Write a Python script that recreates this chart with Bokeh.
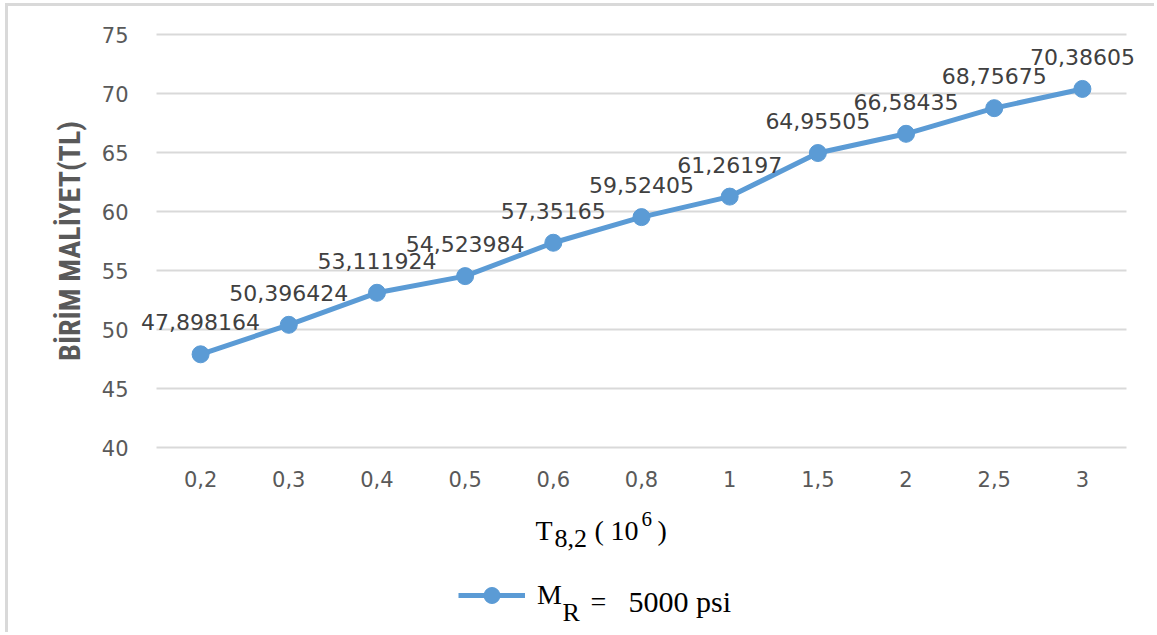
from bokeh.plotting import figure
from bokeh.models import (ColumnDataSource, Range1d, FixedTicker, Grid,
                          Label, LabelSet, Legend, LegendItem)
from bokeh.core.properties import value
from bokeh.embed import file_html
from bokeh.resources import INLINE

# ---------------- data ----------------
categories = ["0,2", "0,3", "0,4", "0,5", "0,6", "0,8", "1", "1,5", "2", "2,5", "3"]
costs = [47.898164, 50.396424, 53.111924, 54.523984, 57.35165, 59.52405,
         61.26197, 64.95505, 66.58435, 68.75675, 70.38605]
cost_labels = ["47,898164", "50,396424", "53,111924", "54,523984", "57,35165", "59,52405",
               "61,26197", "64,95505", "66,58435", "68,75675", "70,38605"]
y_ticks = [40, 45, 50, 55, 60, 65, 70, 75]
y_title = "BİRİM MALİYET(TL)"
x_title_parts = ["T", "8,2", "(", "10", "6", ")"]
legend_parts = ["M", "R", "=", "5000 psi"]

BLUE = "#5B9BD5"
GRID = "#D9D9D9"
TICK = "#595959"
LBL = "#404040"

# ---------------- geometry (page pixels) ----------------
OX, OY = 8, 6                      # canvas origin on page (margin + border)
W, H = 1157 - OX, 635 - OY         # canvas = frame
PL, PR, PT, PB = 156, 1126, 34, 447  # plot area (gridline box) on page
n = len(categories)
ymin, ymax = y_ticks[0], y_ticks[-1]
kx = (PR - PL) / n                  # px per category
ky = (PB - PT) / (ymax - ymin)      # px per unit
x_lo = (OX - PL) / kx - 0.5
x_hi = (OX + W - PL) / kx - 0.5
y_hi = ymin + (PB - OY) / ky
y_lo = ymin - (OY + H - PB) / ky

p = figure(x_range=Range1d(x_lo, x_hi), y_range=Range1d(y_lo, y_hi),
           width=W, height=H, output_backend="svg", toolbar_location=None,
           min_border_left=0, min_border_right=0, min_border_top=0, min_border_bottom=0)
p.styles = {"margin-left": "5px", "margin-top": "3px",
            "border-left": "3px solid #D9D9D9", "border-top": "3px solid #D9D9D9"}
p.outline_line_color = None
p.background_fill_color = "white"
p.border_fill_color = "white"

xs = list(range(n))
src = ColumnDataSource(dict(x=xs, y=costs, t=cost_labels))

# grid
p.xgrid.grid_line_color = None
p.ygrid.ticker = FixedTicker(ticks=y_ticks)
p.ygrid.grid_line_color = GRID
p.ygrid.grid_line_width = 1.8
if "cross_bounds" in Grid.properties():
    p.ygrid.cross_bounds = (-0.5, n - 0.5)
else:
    p.ygrid.grid_line_color = None
    p.segment(x0=[-0.5] * len(y_ticks), x1=[n - 0.5] * len(y_ticks), y0=y_ticks, y1=y_ticks,
              line_color=GRID, line_width=1.8)

line_r = p.line("x", "y", source=src, line_color=BLUE, line_width=5)
circ_r = p.scatter("x", "y", source=src, size=17, fill_color=BLUE, line_color=BLUE)

labels = LabelSet(x="x", y="y", text="t", source=src, text_align="center",
                  text_baseline="alphabetic", y_offset=24, text_font=value("DejaVu Sans"),
                  text_font_size=value("22px"), text_color=value(LBL))
p.add_layout(labels)

# axes at fixed locations
p.xaxis.ticker = FixedTicker(ticks=xs)
p.xaxis.major_label_overrides = {i: c for i, c in enumerate(categories)}
p.xaxis.fixed_location = ymin
p.xaxis.bounds = (-0.5, n - 0.5)
p.yaxis.ticker = FixedTicker(ticks=y_ticks)
p.yaxis.fixed_location = -0.5
p.yaxis.bounds = (ymin, ymax)
for ax in (p.xaxis, p.yaxis):
    ax.axis_line_color = None
    ax.major_tick_line_color = None
    ax.minor_tick_line_color = None
    ax.major_tick_out = 0
    ax.major_tick_in = 0
    ax.major_label_text_font = "DejaVu Sans"
    ax.major_label_text_font_size = "21px"
    ax.major_label_text_color = TICK
p.yaxis.major_label_standoff = 28
p.xaxis.major_label_standoff = 23
p.yaxis.axis_label = y_title
p.yaxis.axis_label_text_font = "'Roboto Condensed', Roboto, sans-serif"
p.yaxis.axis_label_text_font_style = "bold"
p.yaxis.axis_label_text_font_size = "30px"
p.yaxis.axis_label_text_color = TICK
p.yaxis.axis_label_standoff = 12


def fx(X):
    return X - OX


def fy(Y):
    return OY + H - Y


def put(text, X, Y, size, font="Liberation Serif"):
    p.add_layout(Label(x=fx(X), y=fy(Y), x_units="screen", y_units="screen", text=text,
                       text_font=font, text_font_size=f"{size}px", text_color="black",
                       text_align="left", text_baseline="alphabetic"))


# x axis title  T_{8,2}(10^6)
put(x_title_parts[0], 535, 530, 28)
put(x_title_parts[1], 554, 538, 26)
put(x_title_parts[2], 594, 530, 28)
put(x_title_parts[3], 610, 530, 28)
put(x_title_parts[4], 641, 518, 21)
put(x_title_parts[5], 657, 530, 28)

# legend
legend = Legend(items=[LegendItem(label=legend_parts[0], renderers=[line_r, circ_r])],
                location=(fx(458), fy(615)), orientation="horizontal",
                glyph_width=67, glyph_height=40, label_standoff=12,
                padding=0, margin=0, spacing=0, border_line_color=None,
                background_fill_alpha=0, label_text_font="Liberation Serif",
                label_text_font_size="28px", label_text_color="black")
p.add_layout(legend, "center")
put(legend_parts[1], 562, 612, 26)
put(legend_parts[2], 590, 601, 28)
put(legend_parts[3], 628, 601, 30)

open("out.html", "w").write(file_html(p, INLINE))
